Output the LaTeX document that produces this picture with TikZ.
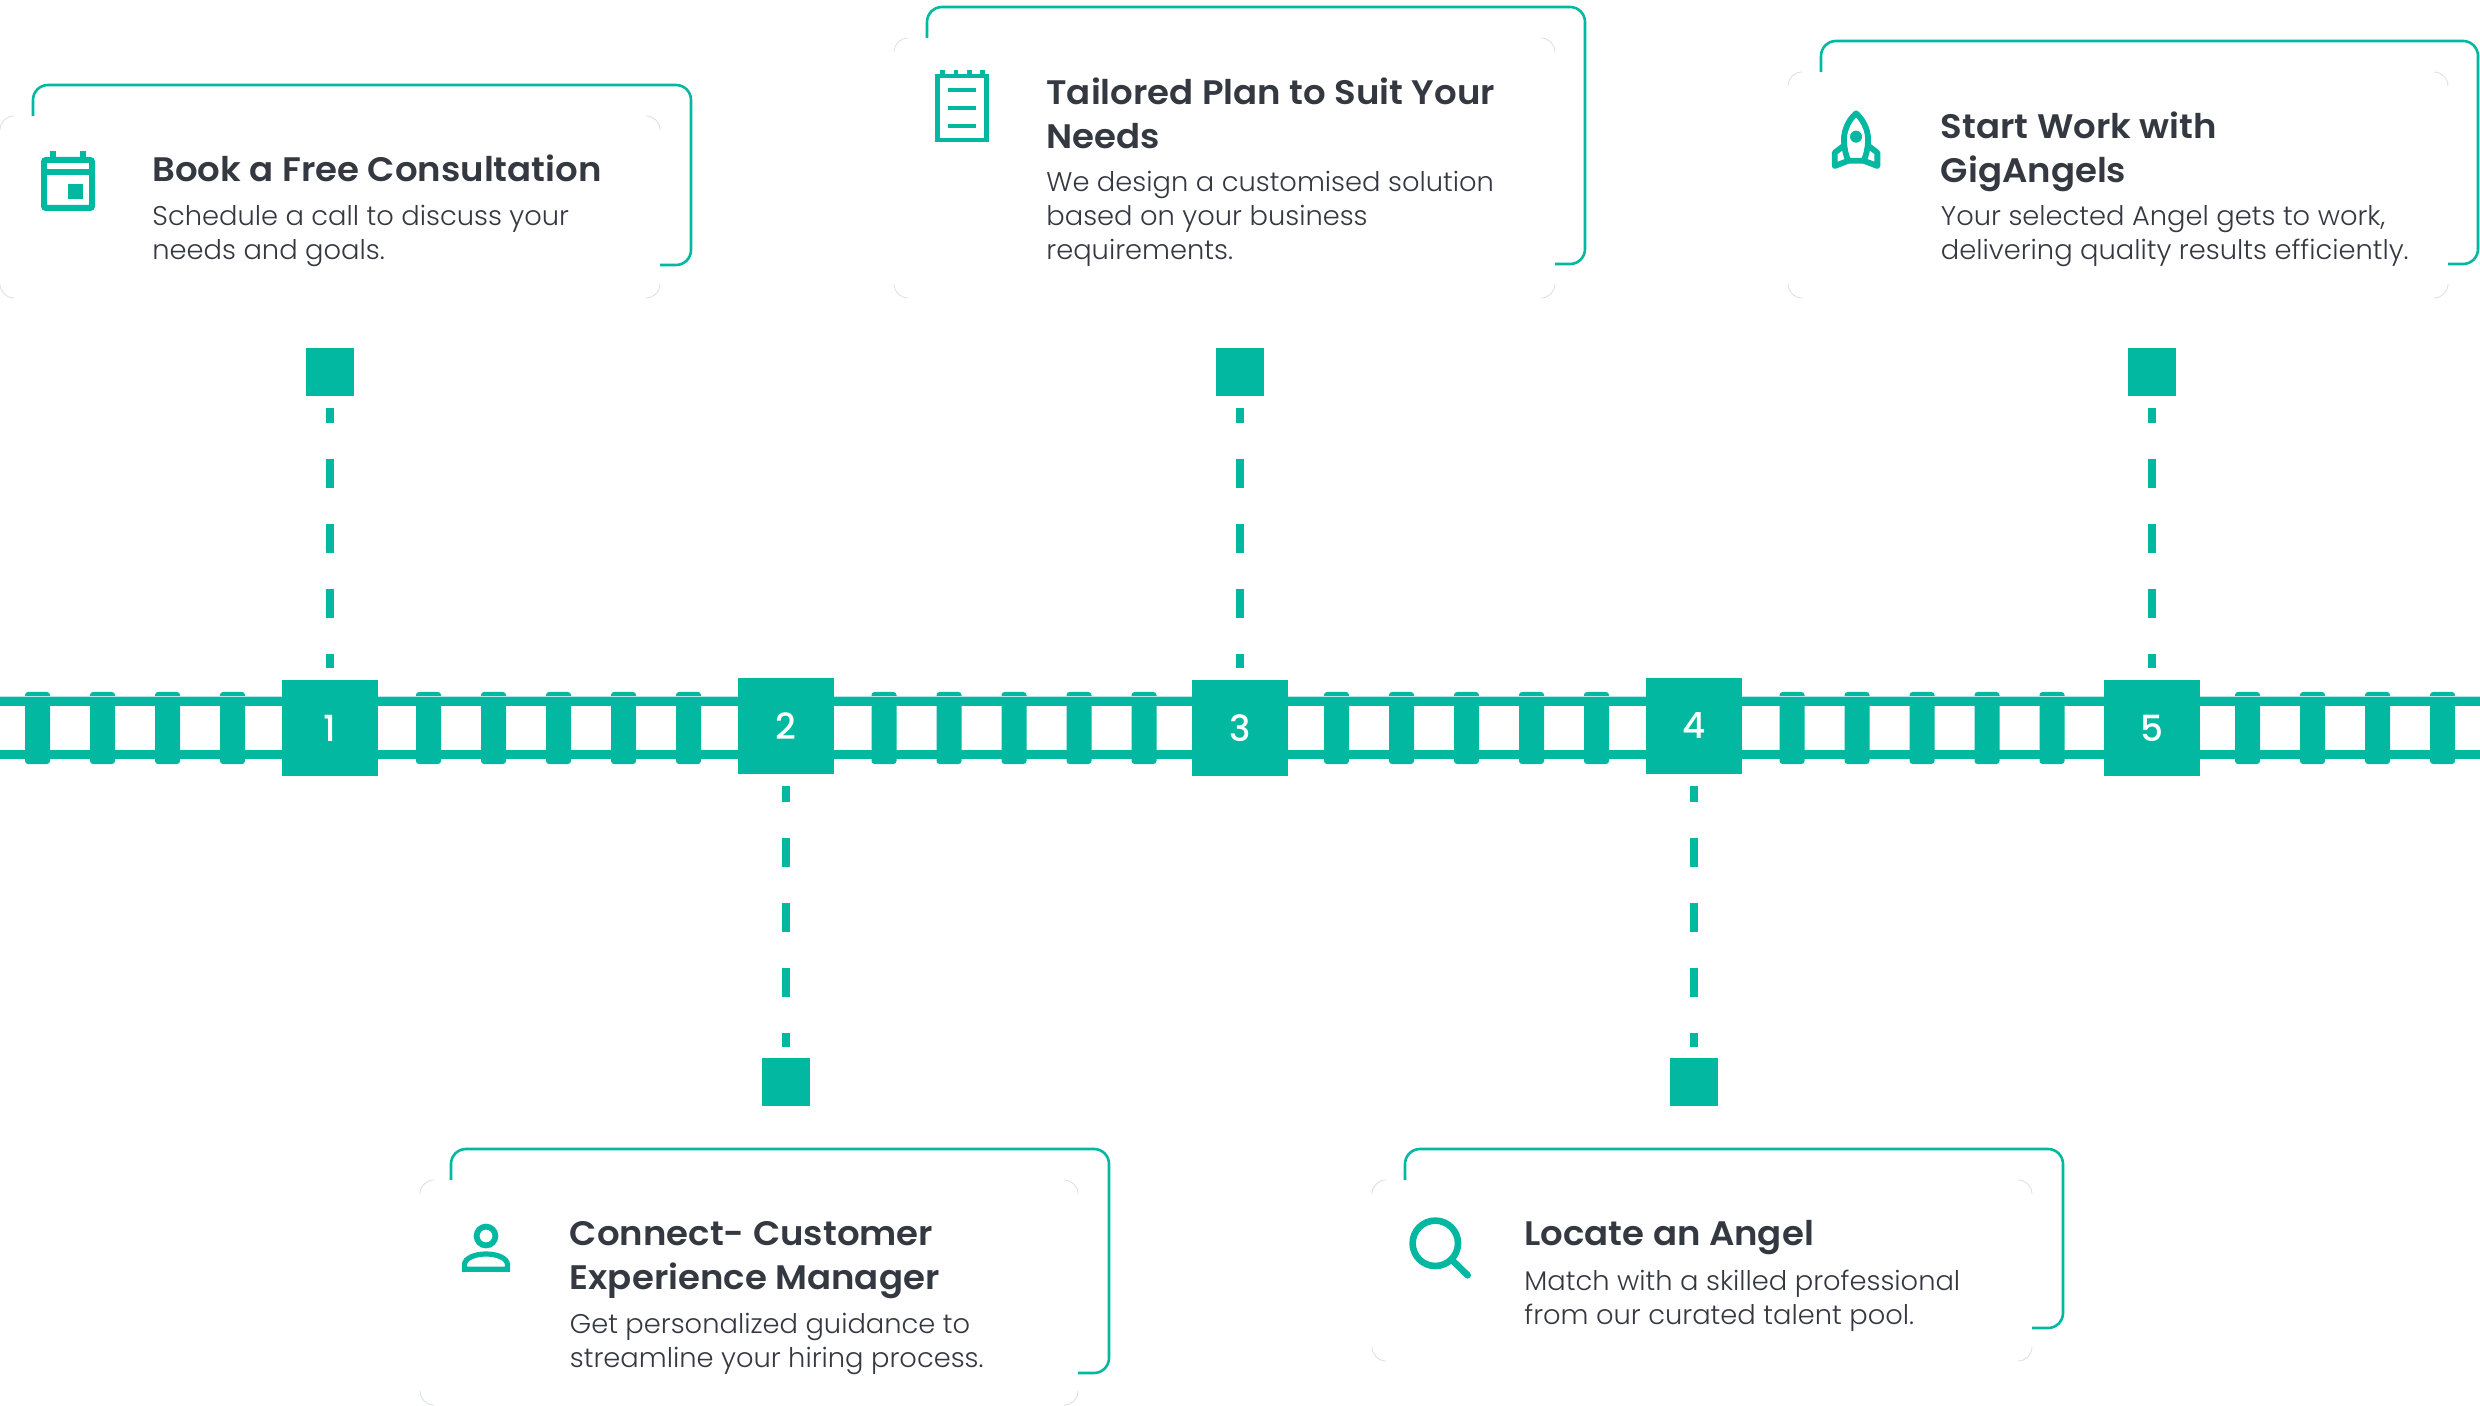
\documentclass[tikz,border=0pt]{standalone}
\usepackage{fontspec}
\setmainfont{Poppins}
\newfontfamily\ftitle{Poppins SemiBold}[FakeStretch=1.045]
\newfontfamily\fdigit{Poppins Medium}
\newfontfamily\fbody{Poppins Light}[FakeStretch=1.012]
\definecolor{teal1}{HTML}{02B8A0}
\definecolor{ink}{HTML}{343840}
\definecolor{faint}{HTML}{D8DCDC}
\tikzset{
 x=0.5pt,y=-0.5pt,
 stepbox/.style={fill=teal1,text=white,inner sep=0pt,minimum size=48pt,font=\fdigit\fontsize{18}{20}\selectfont},
 pin/.style={fill=teal1,inner sep=0pt,minimum size=24pt},
 dashline/.style={teal1,line width=4pt},
 frameline/.style={teal1,line width=1.3pt},
 cornerline/.style={faint,line width=0.35pt},
 titletext/.style={anchor=base west,inner sep=0pt,align=left,text=ink,font=\ftitle\fontsize{17}{22}\selectfont},
 bodytext/.style={anchor=base west,inner sep=0pt,align=left,text=ink,font=\fbody\fontsize{13.5}{17}\selectfont},
 icon/.style={teal1,line width=3pt},
}
\newcommand{\cardframe}[8]{%
 \draw[frameline] (#1,#6) -- (#1,#2+15) arc[start angle=180,end angle=90,radius=7.5pt] -- (#3-15,#2) arc[start angle=90,end angle=0,radius=7.5pt] -- (#3,#4-15) arc[start angle=0,end angle=-90,radius=7.5pt] -- (#7,#4);
 \draw[cornerline] (#5,#6+14) arc[start angle=180,end angle=90,radius=7pt];
 \draw[cornerline] (#7-14,#6) arc[start angle=90,end angle=0,radius=7pt];
 \draw[cornerline] (#7,#8-14) arc[start angle=0,end angle=-90,radius=7pt];
 \draw[cornerline] (#5+14,#8) arc[start angle=-90,end angle=-180,radius=7pt];
}
\begin{document}
\begin{tikzpicture}
\useasboundingbox (0,0) rectangle (2480,1406);
\fill[white] (0,0) rectangle (2480,1406);
% ties
\foreach \cx in {37.5,102.5,167.5,232.5,428.5,493.5,558.5,623.5,688.5,884,949,1014,1079,1144,1336.5,1401.5,1466.5,1531.5,1596.5,1792,1857,1922,1987,2052,2247.5,2312.5,2377.5,2442.5}
  \fill[teal1,rounded corners=1.5pt] (\cx-12.5,692) rectangle (\cx+12.5,764);
% rails
\coordinate (ra) at (0,701.2); \coordinate (rb) at (2480,701.2);
\coordinate (rc) at (0,754.4); \coordinate (rd) at (2480,754.4);
\draw[white!70!teal1,line width=4.9pt] (ra) -- (rb);
\draw[white!70!teal1,line width=4.9pt] (rc) -- (rd);
\draw[teal1,line width=4.4pt] (ra) -- (rb);
\draw[teal1,line width=4.4pt] (rc) -- (rd);
% step boxes
\node[stepbox] (b1) at (330,728) {1};
\node[stepbox] (b2) at (786,726) {2};
\node[stepbox] (b3) at (1240,728) {3};
\node[stepbox] (b4) at (1694,726) {4};
\node[stepbox] (b5) at (2152,728) {5};
% pins
\node[pin] (s1) at (330,372) {};
\node[pin] (s3) at (1240,372) {};
\node[pin] (s5) at (2152,372) {};
\node[pin] (s2) at (786,1082) {};
\node[pin] (s4) at (1694,1082) {};
% connectors
\foreach \a/\b in {s1/b1,s3/b3,s5/b5}
  \draw[dashline,dash pattern=on 14.5pt off 18pt,dash phase=7pt,shorten <=6pt,shorten >=6pt] (\a.south) -- (\b.north);
\foreach \a/\b in {b2/s2,b4/s4}
  \draw[dashline,dash pattern=on 14.5pt off 18pt,dash phase=6.5pt,shorten <=6pt,shorten >=5.5pt] (\a.south) -- (\b.north);
% cards
\cardframe{33}{85}{691}{265}{0}{116}{660}{298}
\cardframe{927}{7}{1585}{264}{894}{38}{1555}{298}
\cardframe{1821}{41}{2478}{264}{1788}{72}{2448}{298}
\cardframe{451}{1149}{1109}{1373}{420}{1180}{1078}{1405}
\cardframe{1405}{1149}{2063}{1328}{1372}{1180}{2032}{1361}
% text
\node[titletext] (t1) at (152,182) {Book a Free Consultation};
\node[bodytext] (d1) at (152,260) {Schedule a call to discuss your\\needs and goals.};
\node[titletext] (t2) at (1046,149) {Tailored Plan to Suit Your\\Needs};
\node[bodytext] (d2) at (1046,260) {We design a customised solution\\based on your business\\requirements.};
\node[titletext] (t3) at (1940.5,182.5) {Start Work with\\GigAngels};
\node[bodytext] (d3) at (1940.5,260) {Your selected Angel gets to work,\\delivering quality results efficiently.};
\node[titletext] (t4) at (569.5,1289) {Connect- Customer\\Experience Manager};
\node[bodytext] (d4) at (569.5,1367) {Get personalized guidance to\\streamline your hiring process.};
\node[titletext] (t5) at (1524,1245.7) {Locate an Angel};
\node[bodytext] (d5) at (1524,1324) {Match with a skilled professional\\from our curated talent pool.};
% calendar icon
\draw[icon,rounded corners=1pt] (44,160) rectangle (92,208);
\draw[icon] (44,172) -- (92,172);
\fill[teal1] (68,184) rectangle (83,199);
\fill[teal1] (50,151) rectangle (56,158);
\fill[teal1] (80,151) rectangle (86,158);
% notepad icon
\draw[teal1,line width=2.2pt] (937.5,76) rectangle (986.5,140);
\foreach \tx in {940,953.5,967,980} \fill[teal1] (\tx,70) rectangle (\tx+4.7,75);
\foreach \ly in {90,108,126} \draw[teal1,line width=2pt] (948,\ly) -- (976,\ly);
% rocket icon
\begin{scope}[shift={(1780,30)},x=0.1667pt,y=-0.1667pt]
\draw[icon,line width=2.9pt,line join=round] (228,250) .. controls (200,275) and (190,310) .. (192,335) .. controls (193,355) and (197,375) .. (205,392) -- (251,392) .. controls (259,375) and (263,355) .. (264,335) .. controls (266,310) and (256,275) .. (228,250) -- cycle;
\draw[icon,line width=2.9pt,line join=round] (190,348) -- (164,368) -- (164,408) -- (205,392);
\draw[icon,line width=2.9pt,line join=round] (266,348) -- (292,368) -- (292,408) -- (251,392);
\fill[teal1] (228,320) circle[radius=3pt];
\end{scope}
% person icon
\draw[icon,line width=2.9pt] (486,1236) circle[radius=4.7pt];
\draw[icon,line width=2.6pt,line join=miter] (464.5,1269.2) -- (464.5,1265) .. controls (464.5,1258) and (475,1254) .. (486,1254) .. controls (497,1254) and (507.5,1258) .. (507.5,1265) -- (507.5,1269.2) -- cycle;
% magnifier icon
\coordinate (mc) at (1435.3,1243.3);
\draw[icon,line width=3.3pt] (mc) circle[radius=11.35pt];
\draw[icon,line width=3.3pt,line cap=round] (1452.7,1260.7) -- (1467.7,1275.3);
\end{tikzpicture}
\end{document}
